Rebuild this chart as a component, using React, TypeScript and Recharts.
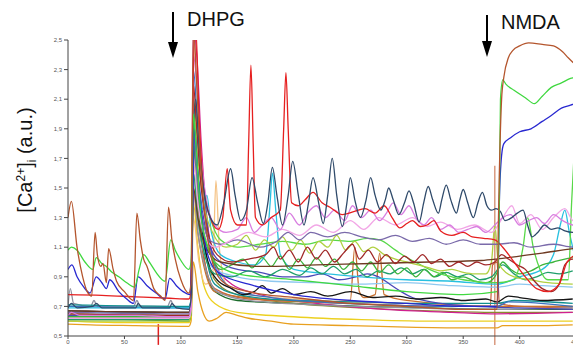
import { LineChart, Line, XAxis, YAxis, ReferenceLine } from "recharts";

type Pt = [number, number];

// time (s) / [Ca2+]i (a.u.)
const brown: Pt[] = [[0,1.3],[3,1.41],[8,1.1],[13,0.9],[17,0.8],[21,0.77],[24,1.2],[26,1.05],[29,0.97],[31,0.99],[34,0.86],[36,1.09],[40,0.95],[43,0.87],[50,0.8],[58,0.74],[61,1.33],[64,1.15],[67,1.02],[70,0.97],[76,0.82],[82,0.77],[86,0.74],[89,1.37],[92,1.15],[95,1.02],[100,0.88],[107,0.79],[109,0.85],[111,2.6],[114,2.2],[118,1.6],[123,1.2],[130,0.95],[140,0.85],[160,0.8],[200,0.76],[250,0.72],[300,0.7],[350,0.68],[380,0.68],[381,1.2],[382,1.6],[384,2.1],[386,2.25],[390,2.38],[394,2.43],[400,2.46],[408,2.48],[420,2.47],[430,2.46],[438,2.42],[443,2.38],[447,2.35],[460,2.28]];
const green: Pt[] = [[0,1.08],[3,1.1],[8,1.08],[15,1.0],[22,0.95],[25,1.03],[30,0.99],[34,0.97],[39,0.93],[45,0.9],[52,0.86],[59,0.83],[63,0.95],[67,1.05],[72,1.0],[78,0.93],[86,0.87],[91,1.15],[95,1.08],[100,1.01],[107,0.95],[109,1.0],[111,2.0],[114,1.7],[118,1.3],[124,1.1],[130,1.0],[150,0.92],[200,0.88],[250,0.84],[300,0.8],[350,0.78],[380,0.8],[382,1.4],[383,2.1],[385,2.23],[388,2.2],[395,2.16],[405,2.11],[413,2.07],[420,2.12],[428,2.18],[437,2.21],[445,2.24],[460,2.26]];
const blue: Pt[] = [[0,0.95],[3.5,0.98],[8,0.9],[14,0.83],[19.5,0.79],[25,0.9],[30,0.86],[34,0.82],[37,0.88],[45,0.8],[52,0.75],[58,0.72],[62,0.9],[70,0.84],[78,0.79],[86,0.75],[90,0.89],[96,0.84],[102,0.8],[108,0.78],[110,1.2],[112,1.9],[115,1.6],[120,1.2],[126,1.0],[135,0.92],[160,0.85],[200,0.78],[250,0.74],[300,0.72],[350,0.7],[380,0.7],[381,0.9],[382,1.4],[384,1.72],[386,1.8],[392,1.84],[400,1.88],[410,1.9],[420,1.95],[428,1.99],[437,2.04],[445,2.06],[460,2.1]];
const red: Pt[] = [[0,0.78],[30,0.775],[60,0.765],[90,0.755],[107,0.75],[109,0.8],[111,2.3],[113,2.6],[116,2.0],[120,1.5],[126,1.3],[133,1.22],[137,1.3],[141,1.63],[144,1.35],[150,1.25],[158,1.25],[160,1.8],[162,2.33],[164,1.8],[166,1.3],[172,1.25],[180,1.3],[188,1.35],[191,1.9],[193,2.28],[195,1.9],[198,1.4],[204,1.38],[210,1.42],[217,1.47],[225,1.4],[232,1.37],[243,1.32],[253,1.34],[263,1.36],[272,1.33],[280,1.38],[287,1.3],[294,1.23],[300,1.26],[305,1.28],[312,1.24],[318,1.25],[324,1.28],[330,1.21],[340,1.18],[350,1.2],[358,1.17],[368,1.16],[378,1.15],[385,1.1],[395,1.0],[405,0.9],[415,0.82],[425,0.8],[435,0.85],[442,1.0],[450,1.05]];
const navy: Pt[] = [[0,0.69],[3,0.72],[8,0.69],[22,0.7],[25,0.72],[30,0.69],[60,0.69],[62,0.72],[66,0.69],[90,0.69],[92,0.72],[96,0.69],[107,0.68],[109,0.75],[111,1.8],[113,2.1],[116,1.8],[120,1.5],[126,1.3],[132,1.25],[138,1.4],[144,1.63],[148,1.45],[153,1.28],[158,1.35],[163,1.57],[168,1.4],[173,1.26],[177,1.4],[181,1.64],[185,1.45],[190,1.25],[195,1.45],[199,1.68],[204,1.45],[209,1.25],[213,1.4],[217,1.57],[222,1.4],[226,1.26],[230,1.45],[234,1.7],[238,1.45],[243,1.24],[247,1.4],[250,1.57],[254,1.42],[259,1.3],[264,1.42],[268,1.57],[272,1.45],[277,1.35],[281,1.42],[284,1.5],[288,1.42],[293,1.32],[298,1.4],[302,1.48],[306,1.4],[311,1.27],[315,1.4],[319,1.51],[323,1.42],[328,1.33],[331,1.42],[335,1.52],[339,1.42],[344,1.33],[347,1.42],[350,1.49],[354,1.4],[359,1.3],[363,1.4],[367,1.47],[371,1.38],[375,1.35],[379,1.36],[383,1.34],[387,1.28],[393,1.3],[398,1.33],[403,1.35],[407,1.25],[411,1.17],[416,1.2],[422,1.25],[428,1.22],[434,1.23],[440,1.21],[447,1.2],[460,1.2]];
const violet: Pt[] = [[0,0.64],[3,0.66],[10,0.64],[60,0.64],[90,0.63],[107,0.63],[109,0.7],[111,2.4],[114,2.2],[118,1.7],[123,1.4],[130,1.25],[140,1.2],[150,1.22],[158,1.3],[165,1.2],[172,1.25],[180,1.3],[188,1.22],[196,1.33],[205,1.25],[212,1.33],[220,1.38],[228,1.3],[236,1.35],[245,1.28],[252,1.38],[260,1.3],[268,1.35],[276,1.28],[282,1.33],[288,1.4],[295,1.32],[302,1.38],[308,1.3],[315,1.25],[322,1.3],[330,1.22],[338,1.25],[346,1.2],[354,1.22],[362,1.24],[370,1.2],[378,1.25],[385,1.3],[392,1.32],[400,1.25],[408,1.28],[415,1.3],[422,1.26],[430,1.32],[438,1.28],[447,1.25],[460,1.24]];
const slate: Pt[] = [[0,0.66],[107,0.65],[109,0.7],[111,1.9],[114,1.6],[119,1.3],[125,1.15],[135,1.12],[150,1.15],[170,1.1],[185,1.14],[195,1.2],[205,1.15],[215,1.2],[230,1.17],[245,1.2],[260,1.17],[275,1.15],[290,1.18],[305,1.14],[320,1.16],[335,1.12],[350,1.15],[365,1.12],[380,1.12],[395,1.13],[410,1.1],[430,1.12],[447,1.1],[460,1.1]];
const orchid: Pt[] = [[0,0.62],[107,0.62],[109,0.68],[111,1.7],[115,1.4],[120,1.2],[130,1.1],[145,1.15],[160,1.2],[175,1.17],[190,1.22],[205,1.18],[220,1.25],[235,1.2],[250,1.28],[262,1.22],[275,1.3],[290,1.25],[305,1.3],[318,1.24],[330,1.27],[345,1.22],[360,1.25],[375,1.2],[385,1.3],[393,1.38],[400,1.26],[410,1.32],[420,1.22],[430,1.3],[440,1.36],[447,1.28],[460,1.25]];
const darkRed: Pt[] = [[0,0.65],[107,0.64],[109,0.7],[111,2.2],[114,1.9],[118,1.5],[124,1.2],[132,1.05],[145,1.0],[160,1.02],[175,1.05],[182,1.1],[188,1.02],[196,1.08],[204,1.0],[212,1.1],[220,1.02],[228,1.08],[236,1.0],[244,1.06],[252,1.12],[258,1.02],[266,1.08],[274,1.0],[282,1.05],[290,0.99],[298,1.04],[306,1.0],[314,1.05],[322,0.99],[330,1.02],[338,0.97],[346,1.0],[354,0.97],[362,1.0],[370,0.98],[378,1.0],[384,1.05],[390,1.02],[398,0.98],[405,0.95],[412,0.88],[420,0.82],[428,0.8],[435,0.85],[440,0.98],[447,1.02],[460,1.02]];
const umber: Pt[] = [[0,0.67],[107,0.66],[109,0.7],[111,1.5],[115,1.3],[122,1.1],[135,1.0],[170,0.97],[220,0.98],[270,0.99],[320,1.0],[366,1.01],[380,1.02],[400,1.04],[420,1.06],[447,1.09],[460,1.1]];
const lime: Pt[] = [[0,0.6],[107,0.6],[109,0.66],[111,2.0],[115,1.7],[120,1.4],[128,1.2],[140,1.1],[150,1.12],[158,1.18],[166,1.08],[174,1.15],[182,1.1],[190,1.17],[198,1.08],[206,1.15],[214,1.06],[222,1.14],[230,1.1],[238,1.18],[246,1.08],[254,1.14],[262,1.07],[270,1.1],[280,1.05],[290,1.02],[300,1.0],[310,0.98],[320,0.96],[330,0.94],[340,0.95],[350,0.93],[360,0.92],[370,0.92],[375,1.0],[378,1.25],[381,1.0],[385,0.95],[395,0.9],[410,0.88],[425,0.86],[447,0.85]];
const midGreen: Pt[] = [[0,0.63],[107,0.63],[109,0.7],[111,1.8],[115,1.5],[120,1.2],[126,1.05],[135,0.95],[145,0.98],[155,1.02],[163,0.96],[172,1.03],[180,0.97],[188,1.04],[196,0.95],[204,1.02],[212,0.96],[220,1.03],[228,0.97],[236,1.02],[244,0.95],[252,1.0],[260,0.94],[268,1.0],[276,0.93],[284,0.98],[292,0.92],[300,0.96],[308,0.9],[316,0.95],[324,0.9],[332,0.93],[340,0.88],[350,0.9],[360,0.87],[370,0.86],[378,0.9],[385,1.0],[392,0.95],[400,0.92],[410,0.94],[420,0.98],[430,1.0],[440,1.02],[447,1.03]];
const seaGreen: Pt[] = [[0,0.61],[107,0.61],[109,0.66],[111,1.6],[115,1.3],[121,1.05],[130,0.92],[145,0.9],[160,0.94],[175,0.9],[190,0.95],[205,0.91],[215,0.96],[225,0.92],[235,0.97],[245,0.92],[255,0.95],[265,0.9],[275,0.94],[285,0.92],[295,0.96],[305,0.92],[315,0.95],[325,0.9],[335,0.93],[345,0.9],[355,0.92],[365,0.88],[375,0.9],[385,0.98],[395,0.92],[405,0.88],[415,0.9],[425,0.93],[435,0.92],[447,0.94]];
const brightGreen: Pt[] = [[0,0.62],[107,0.62],[109,0.7],[111,2.1],[115,1.8],[120,1.5],[126,1.3],[135,1.15],[150,1.1],[170,1.12],[190,1.14],[210,1.12],[230,1.15],[250,1.14],[265,1.16],[276,1.15],[290,1.08],[300,1.03],[310,0.99],[320,0.95],[330,0.92],[340,0.9],[350,0.88],[360,0.87],[370,0.86],[380,0.86],[395,0.88],[403,1.1],[407,1.3],[412,1.1],[418,0.95],[425,0.88],[443,0.88],[446,1.4],[448,1.7]];
const indigo: Pt[] = [[0,0.64],[107,0.63],[109,0.7],[111,1.9],[115,1.6],[120,1.3],[126,1.1],[135,1.0],[150,0.95],[170,0.93],[190,0.9],[210,0.9],[225,0.92],[240,0.88],[255,0.9],[265,0.92],[275,0.9],[285,0.85],[295,0.8],[305,0.76],[315,0.74],[330,0.72],[360,0.7],[400,0.69],[447,0.68]];
const skyBlue: Pt[] = [[0,0.66],[107,0.66],[109,0.7],[111,1.6],[115,1.3],[121,1.05],[130,0.95],[150,0.9],[180,0.87],[220,0.86],[260,0.85],[300,0.86],[340,0.84],[380,0.83],[400,0.85],[420,0.84],[447,0.83]];
const black: Pt[] = [[0,0.67],[107,0.66],[109,0.72],[111,2.0],[114,1.7],[118,1.3],[124,1.0],[132,0.88],[145,0.82],[155,0.78],[165,0.8],[172,0.84],[180,0.79],[190,0.82],[200,0.78],[215,0.8],[230,0.77],[250,0.8],[270,0.76],[290,0.77],[310,0.75],[330,0.76],[350,0.74],[370,0.75],[380,0.73],[390,0.77],[400,0.76],[420,0.74],[447,0.75]];
const cyan: Pt[] = [[0,0.69],[107,0.69],[109,0.74],[111,2.0],[115,1.6],[119,1.35],[123,1.45],[127,1.2],[135,1.05],[150,1.0],[165,0.98],[175,1.05],[179,1.4],[181,1.6],[184,1.35],[188,1.05],[200,0.95],[230,0.92],[260,0.9],[300,0.88],[340,0.87],[380,0.85],[400,0.9],[420,0.95],[430,1.05],[436,1.25],[440,1.35],[444,1.2],[450,1.0]];
const orange: Pt[] = [[0,0.58],[20,0.575],[60,0.57],[107,0.565],[109,0.6],[111,1.0],[115,0.8],[120,0.65],[125,0.6],[132,0.62],[140,0.66],[150,0.64],[160,0.62],[180,0.6],[200,0.58],[250,0.57],[300,0.56],[350,0.555],[380,0.555],[385,0.57],[420,0.57],[447,0.575]];
const yellow: Pt[] = [[0,0.6],[50,0.59],[107,0.59],[109,0.63],[111,1.4],[115,1.1],[120,0.85],[130,0.72],[150,0.66],[200,0.63],[260,0.61],[320,0.6],[380,0.6],[447,0.6]];
const darkGreen: Pt[] = [[0,0.61],[50,0.61],[107,0.6],[109,0.66],[111,1.8],[115,1.4],[121,1.0],[130,0.8],[150,0.74],[200,0.72],[260,0.7],[320,0.69],[380,0.68],[447,0.68]];
const magenta: Pt[] = [[0,0.63],[107,0.62],[109,0.68],[111,2.6],[114,2.4],[118,1.8],[123,1.3],[130,1.0],[145,0.85],[170,0.78],[220,0.72],[280,0.68],[340,0.66],[380,0.65],[447,0.66]];
const steel: Pt[] = [[0,0.7],[107,0.69],[109,0.74],[111,2.3],[115,1.9],[120,1.5],[126,1.1],[135,0.9],[150,0.8],[180,0.76],[220,0.73],[280,0.71],[340,0.7],[380,0.7],[390,0.73],[447,0.7]];
const olive: Pt[] = [[0,0.65],[107,0.64],[109,0.7],[111,1.7],[115,1.4],[122,1.05],[132,0.86],[150,0.78],[200,0.72],[260,0.69],[320,0.67],[380,0.66],[447,0.66]];
const grey: Pt[] = [[0,0.7],[2,0.82],[5,0.72],[20,0.7],[23,0.74],[26,0.7],[58,0.7],[61,0.74],[64,0.7],[88,0.7],[91,0.74],[94,0.7],[107,0.69],[109,0.73],[111,1.5],[115,1.2],[122,0.95],[132,0.8],[160,0.74],[220,0.71],[300,0.69],[380,0.68],[447,0.69]];
const teal: Pt[] = [[0,0.71],[107,0.7],[109,0.75],[111,1.9],[115,1.5],[121,1.1],[130,0.85],[150,0.78],[200,0.74],[260,0.73],[320,0.72],[380,0.72],[395,0.74],[447,0.72]];
const peach: Pt[] = [[0,0.62],[107,0.62],[109,0.66],[111,1.3],[116,1.0],[122,0.85],[128,0.9],[131,1.55],[134,1.1],[140,0.85],[160,0.78],[220,0.74],[300,0.72],[380,0.7],[447,0.7]];
const sienna: Pt[] = [[0,0.66],[107,0.66],[109,0.7],[111,1.6],[115,1.3],[121,1.0],[130,0.82],[160,0.75],[250,0.72],[330,0.7],[374,0.7],[376,0.98],[380,1.0],[382,0.72],[400,0.7],[447,0.69]];
const copper: Pt[] = [[0,0.64],[107,0.64],[109,0.7],[111,1.5],[115,1.2],[121,0.95],[130,0.8],[170,0.75],[230,0.73],[250,0.74],[254,1.1],[258,0.8],[262,0.76],[272,0.78],[276,1.06],[280,0.78],[300,0.74],[380,0.7],[447,0.7]];

const yTicks = [0.5, 0.7, 0.9, 1.1, 1.3, 1.5, 1.7, 1.9, 2.1, 2.3, 2.5];
const xTicks = [0, 50, 100, 150, 200, 250, 300, 350, 400, 450];

const series: [string, string, Pt[]][] = [
  ["orange", "#e8a020", orange],
  ["yellow", "#ecd020", yellow],
  ["darkGreen", "#1a6b2a", darkGreen],
  ["olive", "#8a8a30", olive],
  ["magenta", "#d02090", magenta],
  ["peach", "#f4c080", peach],
  ["sienna", "#c8643c", sienna],
  ["copper", "#c87030", copper],
  ["grey", "#9090a0", grey],
  ["teal", "#109090", teal],
  ["steel", "#3a70c0", steel],
  ["skyBlue", "#8ec8f0", skyBlue],
  ["indigo", "#4a48b8", indigo],
  ["black", "#151515", black],
  ["cyan", "#28c0e0", cyan],
  ["seaGreen", "#1f9e6a", seaGreen],
  ["midGreen", "#3cb43c", midGreen],
  ["brightGreen", "#58d848", brightGreen],
  ["lime", "#b0d040", lime],
  ["umber", "#6e3a22", umber],
  ["darkRed", "#a02828", darkRed],
  ["slate", "#7a6aaa", slate],
  ["orchid", "#f2a6e6", orchid],
  ["violet", "#d87ee0", violet],
  ["red", "#e62020", red],
  ["navy", "#2f4a6a", navy],
  ["blue", "#2828d0", blue],
  ["green", "#40d840", green],
  ["brown", "#b4552d", brown],
];

const toRows = (pts: Pt[]) => pts.map(([t, v]) => ({ t, v }));

const comma = (v: number) => v.toFixed(1).replace(".", ",");

function YLabel() {
  return (
    <text x={32} y={160} transform="rotate(-90 32 160)" textAnchor="middle" fontSize={20} fill="#111"
      fontFamily="'Liberation Sans', Arial, sans-serif">
      <tspan>[Ca</tspan>
      <tspan dy={-7} fontSize={12}>2+</tspan>
      <tspan dy={7}>]</tspan>
      <tspan dy={4} fontSize={12}>i</tspan>
      <tspan dy={-4}> (a.u.)</tspan>
    </text>
  );
}

function Arrow({ x, top, tip, label }: { x: number; top: number; tip: number; label: string }) {
  return (
    <g>
      <line x1={x} y1={top} x2={x} y2={tip - 12} stroke="#000" strokeWidth={2} />
      <polygon points={`${x - 5},${tip - 16} ${x + 5},${tip - 16} ${x},${tip}`} fill="#000" />
      <text x={x + 14} y={top + 14} fontSize={20} fill="#111" fontFamily="'Liberation Sans', Arial, sans-serif">{label}</text>
    </g>
  );
}

export default function App() {
  return (
    <div style={{ position: "absolute", left: 0, top: 0, width: 573, height: 351, overflow: "hidden", background: "#fff" }}>
      <LineChart width={619} height={351} margin={{ top: 40, right: 9, left: 0, bottom: 0 }}>
        <XAxis dataKey="t" type="number" domain={[0, 480]} ticks={xTicks} allowDataOverflow
          height={15} tickSize={3} tickMargin={1} stroke="#444"
          tick={{ fontSize: 6, fill: "#555", fontFamily: "'Liberation Sans', Arial, sans-serif" }} />
        <YAxis type="number" domain={[0.5, 2.5]} ticks={yTicks} allowDataOverflow width={68}
          tickSize={4} tickMargin={2} stroke="#444" tickFormatter={comma}
          tick={{ fontSize: 6, fill: "#555", fontFamily: "'Liberation Sans', Arial, sans-serif" }}
          label={<YLabel />} />
        <ReferenceLine segment={[{ x: 80, y: 0.58 }, { x: 80, y: 0.44 }]} stroke="#e02020" strokeWidth={1.5} ifOverflow="visible" />
        <ReferenceLine segment={[{ x: 378, y: 1.65 }, { x: 378, y: 0.44 }]} stroke="#d08060" strokeWidth={1.2} ifOverflow="visible" />
        {series.map(([name, color, pts]) => (
          <Line key={name} data={toRows(pts)} dataKey="v" name={name} stroke={color} strokeWidth={1.3}
            dot={false} type="monotone" isAnimationActive={false} />
        ))}
      </LineChart>
      <svg width={573} height={60} style={{ position: "absolute", left: 0, top: 0 }}>
        <Arrow x={173} top={12} tip={58} label="DHPG" />
        <Arrow x={487} top={15} tip={57} label="NMDA" />
      </svg>
    </div>
  );
}
